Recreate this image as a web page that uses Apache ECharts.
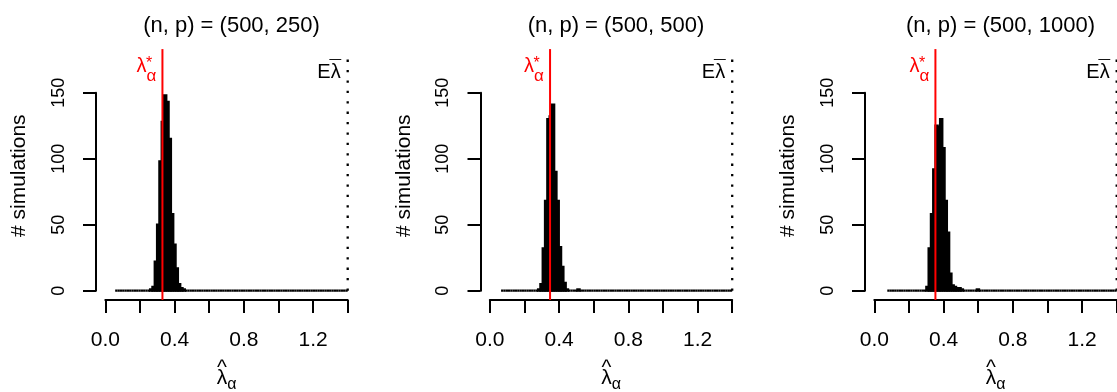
<!DOCTYPE html>
<html><head><meta charset="utf-8">
<script src="https://cdn.jsdelivr.net/npm/echarts@6/dist/echarts.min.js"></script>
<style>html,body{margin:0;padding:0;background:#fff}#c{width:1117px;height:392px}</style>
</head><body><div id="c"></div>
<script>
// ---------------- data ----------------
const panelTitles = ['(n, p) = (500, 250)', '(n, p) = (500, 500)', '(n, p) = (500, 1000)'];
const binStart = [0.057, 0.065, 0.075];
const binWidth = [0.01343, 0.01335, 0.01325];
const countsP250 = [
  0,0,0,0,0,0,0,0,0,0, 0,0,0,0,0,1,3,22,50,98,
  128,148,143,115,58,35,17,5,2,1, 0,0,0,0,0,0,0,0,0,0,
  0,0,0,0,0,0,0,0,0,0, 0,0,0,0,0,0,0,0,0,0,
  0,0,0,0,0,0,0,0,0,0, 0,0,0,0,0,0,0,0,0,0,
  0,0,0,0,0,0,0,0,0,0, 0,0,0,0,0,0,0,0,0,0
];
const countsP500 = [
  0,0,0,0,0,0,0,0,0,0, 0,0,0,0,0,0,1,5,32,68,
  130,132,141,90,68,33,18,6,1,0, 0,0,0,1,0,0,0,0,0,0,
  0,0,0,0,0,0,0,0,0,0, 0,0,0,0,0,0,0,0,0,0,
  0,0,0,0,0,0,0,0,0,0, 0,0,0,0,0,0,0,0,0,0,
  0,0,0,0,0,0,0,0,0,0, 0,0,0,0,0,0,0,0,0,0
];
const countsP1000 = [
  0,0,0,0,0,0,0,0,0,0, 0,0,0,0,0,0,0,3,32,58,
  92,125,124,130,108,68,44,13,4,3, 2,2,1,0,0,0,0,0,0,1,
  0,0,0,0,0,0,0,0,0,0, 0,0,0,0,0,0,0,0,0,0,
  0,0,0,0,0,0,0,0,0,0, 0,0,0,0,0,0,0,0,0,0,
  0,0,0,0,0,0,0,0,0,0, 0,0,0,0,0,0,0,0,0,0
];
const panelCounts = [countsP250, countsP500, countsP1000];
const lambdaStar = [0.330, 0.348, 0.353];
const expectedLambdaBar = [1.4, 1.4, 1.4];
const xTickLabels = ['0.0', '', '0.4', '', '0.8', '', '1.2', ''];
const yTickLabels = ['0', '50', '100', '150'];
const yLimTop = 176;

// ---------------- layout ----------------
const STEP = 384.5, AX_L = 105.3, AX_T = 92.7, AX_W = 242.4, AX_H = 198, GAP = 9.3;
const FONT = '"Liberation Sans", Arial, Helvetica, sans-serif';

const grids = [], xAxes = [], yAxes = [], titles = [], series = [];
for (let i = 0; i < 3; i++) {
  const dx = STEP * i;
  grids.push({left: AX_L + dx, top: AX_T, width: AX_W, height: AX_H, containLabel: false, outerBoundsMode: 'none'});
  titles.push({text: panelTitles[i], left: AX_L + dx + AX_W / 2, top: 10, textAlign: 'center',
    textStyle: {fontSize: 22, fontWeight: 'normal', color: '#000', fontFamily: FONT}});
  xAxes.push({
    gridIndex: i, type: 'value', min: 0, max: 1.4, interval: 0.2, offset: GAP,
    axisLine: {show: true, onZero: false, lineStyle: {color: '#000', width: 2}},
    axisTick: {show: true, length: 13, lineStyle: {color: '#000', width: 2}},
    axisLabel: {show: true, fontSize: 21, color: '#000', margin: 30, fontFamily: FONT,
      formatter: v => xTickLabels[Math.round(v / 0.2)] || ''},
    splitLine: {show: false},
    name: '{h|^}{hp|}\n{l|λ}{a|α}', nameLocation: 'middle', nameGap: 58,
    nameTextStyle: {color: '#000', fontFamily: FONT, rich: {
      h: {fontSize: 21, lineHeight: 10, verticalAlign: 'top', fontFamily: FONT, color: '#000'},
      hp: {width: 9, lineHeight: 10, fontSize: 10},
      l: {fontSize: 21, lineHeight: 25, verticalAlign: 'top', fontFamily: FONT, color: '#000'},
      a: {fontSize: 16, lineHeight: 25, verticalAlign: 'bottom', fontFamily: FONT, color: '#000'}
    }}
  });
  yAxes.push({
    gridIndex: i, type: 'value', min: 0, max: 150, interval: 50, offset: GAP,
    axisLine: {show: true, onZero: false, lineStyle: {color: '#000', width: 2}},
    axisTick: {show: true, length: 13, lineStyle: {color: '#000', width: 2}},
    axisLabel: {show: true, rotate: 90, fontSize: 18, color: '#000', margin: 28, fontFamily: FONT,
      formatter: v => yTickLabels[Math.round(v / 50)]},
    splitLine: {show: false},
    name: '# simulations', nameLocation: 'middle', nameRotate: 90, nameGap: 66,
    nameTextStyle: {fontSize: 21, color: '#000', fontFamily: FONT, padding: [0, 0, 0, 32]}
  });

  const bins = panelCounts[i].map((c, k) => [binStart[i] + k * binWidth[i], binStart[i] + (k + 1) * binWidth[i], c]);
  series.push({
    type: 'custom', xAxisIndex: i, yAxisIndex: i, silent: true, clip: false,
    data: bins,
    encode: {x: [0, 1], y: 2},
    renderItem: (params, api) => {
      const p0 = api.coord([api.value(0), 0]);
      const p1 = api.coord([api.value(1), api.value(2)]);
      return {type: 'rect', shape: {x: p0[0], y: p1[1], width: p1[0] - p0[0], height: p0[1] - p1[1]},
        style: {fill: '#000', stroke: '#000', lineWidth: 2.2}};
    }
  });
  // vertical red line at lambda*
  series.push({
    type: 'line', xAxisIndex: i, yAxisIndex: i, silent: true, clip: false, symbol: 'none',
    data: [[lambdaStar[i], -0.04 * yLimTop], [lambdaStar[i], 1.04 * yLimTop]],
    lineStyle: {color: '#ff0000', width: 2}, z: 5
  });
  // dotted line at E lambda bar
  series.push({
    type: 'line', xAxisIndex: i, yAxisIndex: i, silent: true, clip: false, symbol: 'none',
    data: [[expectedLambdaBar[i], 0], [expectedLambdaBar[i], yLimTop]],
    lineStyle: {color: '#000', width: 2.3, type: [2.3, 8.1]}, z: 4
  });
  // text annotations
  const lab = (x, text, align, off, size, color) => ({
    value: [x, yLimTop],
    label: {show: true, position: 'inside', formatter: text, align: align, verticalAlign: 'middle',
      offset: off, fontSize: size, color: color, fontFamily: FONT, opacity: 1,
      textBorderWidth: 0, textShadowBlur: 0}
  });
  series.push({
    type: 'scatter', xAxisIndex: i, yAxisIndex: i, silent: true, clip: false, symbolSize: 1,
    itemStyle: {color: 'rgba(0,0,0,0)'}, z: 6,
    data: [
      lab(lambdaStar[i], 'λ', 'right', [-16, 8.5], 20, '#ff0000'),
      lab(lambdaStar[i], '*', 'left', [-16.5, 5], 16, '#ff0000'),
      lab(lambdaStar[i], 'α', 'left', [-16, 17.5], 17, '#ff0000'),
      lab(expectedLambdaBar[i], 'Eλ', 'right', [-7, 14], 20, '#000'),
      lab(expectedLambdaBar[i], '¯', 'right', [-6.5, 10], 21, '#000')
    ]
  });
}

const chart = echarts.init(document.getElementById('c'), null, {renderer: 'canvas'});
chart.setOption({
  animation: false,
  backgroundColor: '#fff',
  textStyle: {fontFamily: FONT},
  title: titles, grid: grids, xAxis: xAxes, yAxis: yAxes, series: series
});
</script></body></html>
